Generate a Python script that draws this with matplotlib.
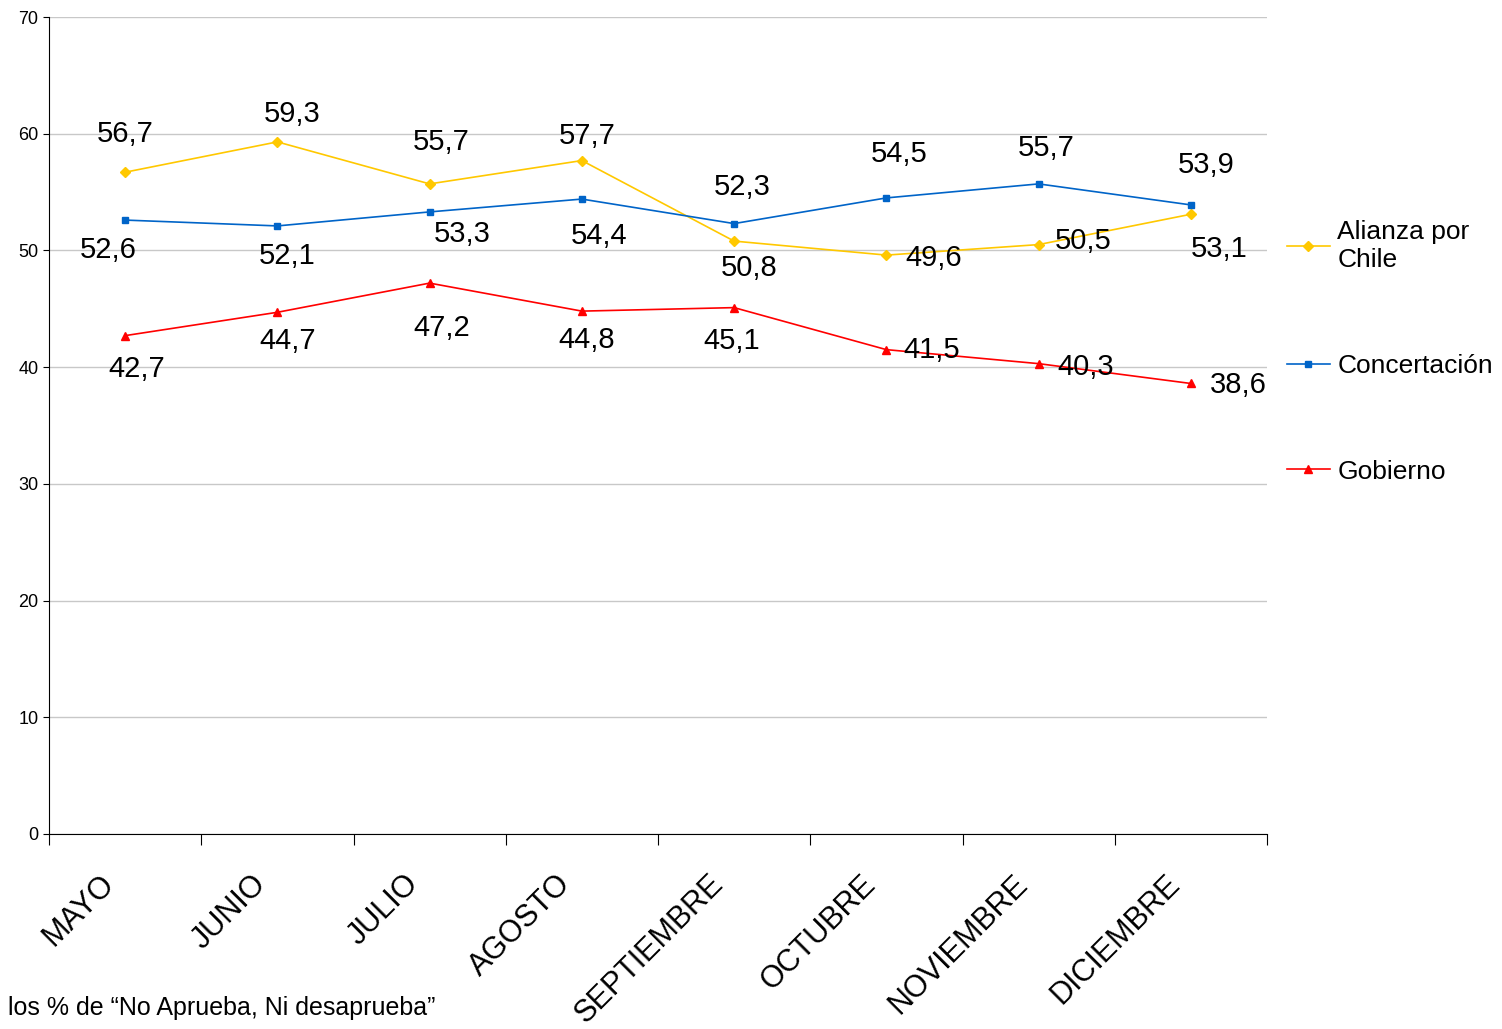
import matplotlib
matplotlib.use("Agg")
import matplotlib.pyplot as plt
import numpy as np

plt.rcParams['font.family'] = ['Liberation Sans', 'DejaVu Sans']

months = ["MAYO","JUNIO","JULIO","AGOSTO","SEPTIEMBRE","OCTUBRE","NOVIEMBRE","DICIEMBRE"]
alianza = [56.7,59.3,55.7,57.7,50.8,49.6,50.5,53.1]
concert = [52.6,52.1,53.3,54.4,52.3,54.5,55.7,53.9]
gobierno = [42.7,44.7,47.2,44.8,45.1,41.5,40.3,38.6]

off_a = [(0,38),(15,28),(12,42),(5,25),(15,-27),(47,-3),(45,4),(28,-35)]
off_c = [(-17,-30),(10,-30),(33,-22),(17,-37),(8,37),(13,44),(8,36),(15,40)]
off_g = [(12,-33),(10,-29),(12,-45),(5,-29),(-2,-33),(45,0),(47,-3),(47,-2)]

fig = plt.figure(figsize=(15.02,10.29), dpi=100)
ax = fig.add_axes([49/1502, 1-834/1029, (1267-49)/1502, (834-17)/1029])
x = np.arange(len(months)) + 0.5
ax.plot(x, alianza, color="#FFC800", marker="D", ms=5, lw=1.2, label="Alianza por\nChile")
ax.plot(x, concert, color="#0064C8", marker="s", ms=5, lw=1.2, label="Concertación")
ax.plot(x, gobierno, color="#FF0000", marker="^", ms=6, lw=1.2, label="Gobierno")
for vals, offs in ((alianza, off_a), (concert, off_c), (gobierno, off_g)):
    for xi, v, o in zip(x, vals, offs):
        ax.annotate(f"{v:.1f}".replace(".", ","), (xi, v), xytext=o, textcoords="offset pixels",
                    ha="center", va="center", fontsize=21)
ax.set_xlim(0, 8)
ax.set_ylim(0, 70)
ax.set_yticks(range(0, 71, 10))
ax.tick_params(axis="y", labelsize=13, length=4, direction="out")
ax.set_xticks(range(0, 9))
ax.set_xticklabels([])
ax.tick_params(axis="x", length=8)
for xi, m in zip(x, months):
    ax.text(xi - 0.17, -3.0, m, rotation=45, rotation_mode="anchor", ha="right", va="top",
            fontsize=22, transform=ax.transData)
ax.grid(axis="y", color="#C8C8C8", lw=1)
ax.set_axisbelow(True)
for s in ["top", "right"]:
    ax.spines[s].set_visible(False)
ax.legend(loc="center left", bbox_to_anchor=(1.008, 0.59), frameon=False, fontsize=19,
          labelspacing=3.1, handlelength=1.6, handletextpad=0.3, borderaxespad=0.0)
fig.text(8/1502, 1-1008/1029, "los % de “No Aprueba, Ni desaprueba”", fontsize=18, va="center")
fig.savefig("out.png", dpi=100)
